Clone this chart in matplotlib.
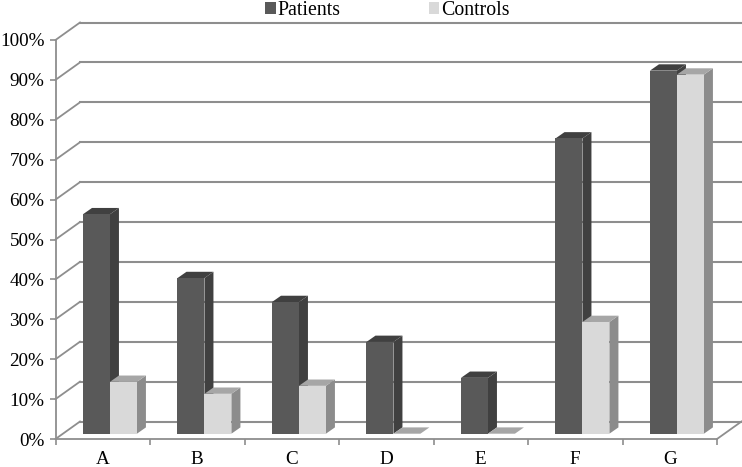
import matplotlib
matplotlib.use('Agg')
from matplotlib import pyplot as plt
from matplotlib.patches import Patch, Polygon
from matplotlib.transforms import Affine2D, IdentityTransform

categories = ['A', 'B', 'C', 'D', 'E', 'F', 'G']
patients = [55, 39, 33, 23, 14, 74, 91]
controls = [13, 10, 12, 0, 0, 28, 90]
percent_ticks = [0, 10, 20, 30, 40, 50, 60, 70, 80, 90, 100]

W, H = 742, 467
GRID = '#8e8e8e'
DARK = ('#595959', '#404040', '#404040')   # front, side, top
LIGHT = ('#d9d9d9', '#8c8c8c', '#a6a6a6')
BAR_W = 0.2854
WALL_DX, WALL_DY = 24.5, 17.5   # depth of the chart box, px
BAR_DX, BAR_DY = 7.2, 5.3       # bars stand a little behind the front edge
SIDE_DX, SIDE_DY = 9, 6.3       # depth of a bar
FS = 13.8

plt.rcParams['font.family'] = ['Liberation Serif', 'DejaVu Serif']

fig = plt.figure(figsize=(W / 100, H / 100), dpi=100)
ax = fig.add_axes([55.5 / W, (H - 439) / H, (717 - 55.5) / W, 399 / H])
ax.set_xlim(0, len(categories))
ax.set_ylim(0, 100)
ax.set_autoscale_on(False)

ax.set_yticks(percent_ticks)
ax.set_yticklabels(['%d%%' % v for v in percent_ticks], fontsize=FS)
ax.set_xticks(range(len(categories) + 1))
ax.set_xticklabels([])
ax.set_xticks([i + 0.5 for i in range(len(categories))], minor=True)
ax.set_xticklabels(categories, minor=True, fontsize=FS)
ax.tick_params(axis='x', which='minor', length=0, pad=9)
ax.tick_params(axis='x', which='major', length=4, width=1.2, color=GRID)
ax.tick_params(axis='y', length=4, width=1.2, color=GRID, pad=4)
for s in ['top', 'right']:
    ax.spines[s].set_visible(False)
for s in ['left', 'bottom']:
    ax.spines[s].set_color(GRID)
    ax.spines[s].set_linewidth(1.3)

# back wall lines and the diagonals joining them to the axis
back = ax.transData + Affine2D().translate(WALL_DX, WALL_DY)
for v in percent_ticks:
    ax.plot([0, len(categories)], [v, v], color=GRID, lw=1.5, transform=back,
            clip_on=False, zorder=1)
    x0, y0 = ax.transData.transform((0, v))
    ax.plot([x0, x0 + WALL_DX], [y0, y0 + WALL_DY], color=GRID, lw=1.3,
            transform=IdentityTransform(), clip_on=False, zorder=1)
x0, y0 = ax.transData.transform((len(categories), 0))
ax.plot([x0, x0 + WALL_DX], [y0, y0 + WALL_DY], color=GRID, lw=1.3,
        transform=IdentityTransform(), clip_on=False, zorder=1)

front = ax.transData + Affine2D().translate(BAR_DX, BAR_DY)


def bar3d(x, value, colors, z):
    ax.bar(x, value, BAR_W, align='edge', color=colors[0], transform=front,
           clip_on=False, zorder=z + 0.2, linewidth=0)
    xl, yb = front.transform((x, 0))
    xr, yt = front.transform((x + BAR_W, value))
    side = [(xr, yb), (xr + SIDE_DX, yb + SIDE_DY), (xr + SIDE_DX, yt + SIDE_DY), (xr, yt)]
    top = [(xl, yt), (xr, yt), (xr + SIDE_DX, yt + SIDE_DY), (xl + SIDE_DX, yt + SIDE_DY)]
    ax.add_patch(Polygon(side, color=colors[1], lw=0, transform=IdentityTransform(),
                         clip_on=False, zorder=z))
    ax.add_patch(Polygon(top, color=colors[2], lw=0, transform=IdentityTransform(),
                         clip_on=False, zorder=z + 0.1))


for i in range(len(categories)):
    bar3d(i + 0.5 - BAR_W, patients[i], DARK, 3)
    bar3d(i + 0.5, controls[i], LIGHT, 4)

handles = [Patch(color=DARK[0], lw=0), Patch(color=LIGHT[0], lw=0)]
fig.legend(handles, ['Patients', 'Controls'], ncol=2, frameon=False, fontsize=14.3,
           handlelength=0.53, handleheight=0.53, handletextpad=0.1, columnspacing=4.45,
           loc='upper left', bbox_to_anchor=(265 / W, (H - 1) / H),
           bbox_transform=fig.transFigure, borderpad=0, borderaxespad=0)

fig.savefig('out.png', dpi=100)
